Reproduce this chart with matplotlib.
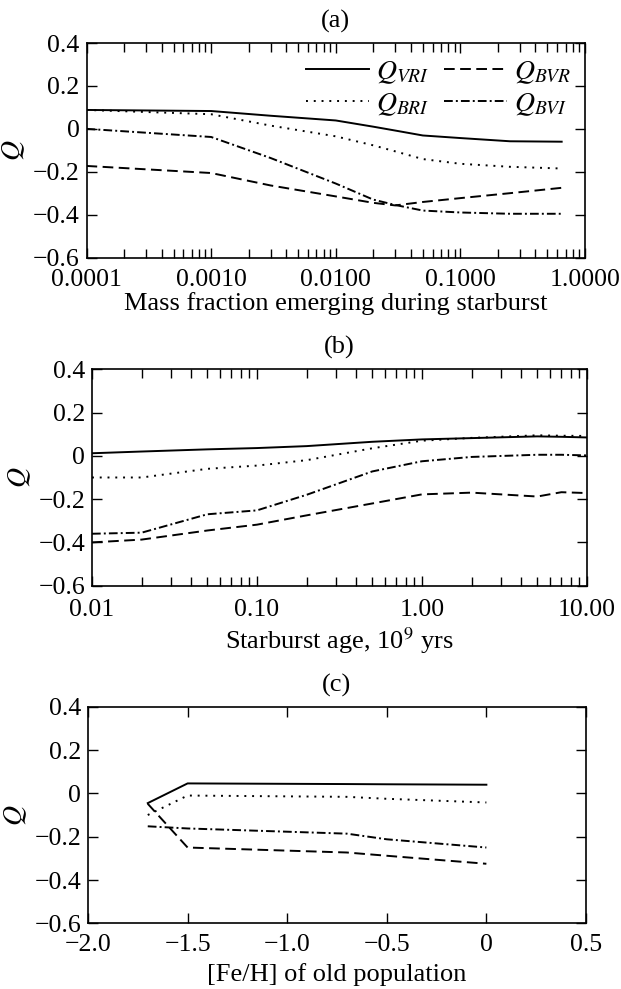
import matplotlib
matplotlib.use("Agg")
import matplotlib.pyplot as plt
from matplotlib.ticker import FixedLocator, LogLocator, NullFormatter, FixedFormatter

plt.rcParams['font.family'] = ['Liberation Serif', 'DejaVu Serif']
plt.rcParams['mathtext.fontset'] = 'stix'

# ---------------- data ----------------
# panel (a): mass fraction emerging during starburst
a_x = [1e-4, 1e-3, 3e-3, 1e-2, 2e-2, 3e-2, 5e-2, 1e-1, 2.5e-1, 6.5e-1]
a_vri = [0.088, 0.083, 0.061, 0.039, 0.010, -0.008, -0.031, -0.043, -0.058, -0.060]
a_bri = [0.088, 0.068, 0.015, -0.035, -0.077, -0.105, -0.141, -0.163, -0.177, -0.185]
a_bvi = [0.0, -0.038, -0.136, -0.255, -0.330, -0.355, -0.381, -0.390, -0.396, -0.396]
a_bvr = [-0.173, -0.206, -0.264, -0.315, -0.345, -0.357, -0.341, -0.323, -0.300, -0.275]

# panel (b): starburst age
b_x = [0.01, 0.02, 0.05, 0.1, 0.2, 0.5, 1.0, 2.0, 5.0, 7.0, 10.0]
b_vri = [0.012, 0.020, 0.030, 0.036, 0.045, 0.065, 0.076, 0.082, 0.090, 0.088, 0.085]
b_bri = [-0.100, -0.100, -0.060, -0.045, -0.020, 0.035, 0.070, 0.083, 0.095, 0.093, 0.092]
b_bvi = [-0.360, -0.355, -0.270, -0.252, -0.180, -0.072, -0.025, -0.005, 0.005, 0.005, 0.002]
b_bvr = [-0.400, -0.387, -0.345, -0.318, -0.275, -0.220, -0.178, -0.170, -0.188, -0.168, -0.172]

# panel (c): [Fe/H] of old population
c_x = [-1.7, -1.5, -0.7, -0.5, 0.0]
c_vri = [-0.045, 0.046, 0.043, 0.042, 0.040]
c_bri = [-0.100, -0.010, -0.016, -0.025, -0.042]
c_bvi = [-0.152, -0.162, -0.186, -0.212, -0.250]
c_bvr = [-0.048, -0.250, -0.273, -0.288, -0.325]

y_ticks = [-0.6, -0.4, -0.2, 0.0, 0.2, 0.4]
y_ticklabels = ['\u22120.6', '\u22120.4', '\u22120.2', '0', '0.2', '0.4']

a_ticks = [1e-4, 1e-3, 1e-2, 1e-1, 1.0]
a_ticklabels = ['0.0001', '0.0010', '0.0100', '0.1000', '1.0000']
b_ticks = [0.01, 0.1, 1.0, 10.0]
b_ticklabels = ['0.01', '0.10', '1.00', '10.00']
c_ticks = [-2.0, -1.5, -1.0, -0.5, 0.0, 0.5]
c_ticklabels = ['\u22122.0', '\u22121.5', '\u22121.0', '\u22120.5', '0', '0.5']

labels = [r'$Q_{VRI}$', r'$Q_{BRI}$', r'$Q_{BVR}$', r'$Q_{BVI}$']

# ---------------- styles ----------------
LW = 1.4
styles = {
    'vri': dict(color='black', lw=LW, ls='-'),
    'bri': dict(color='black', lw=LW, ls=(0, (1, 3))),
    'bvr': dict(color='black', lw=LW, ls=(0, (5.5, 2.8))),
    'bvi': dict(color='black', lw=LW, ls=(0, (4.5, 1.6, 1, 1.6))),
}
TFS = 18.5   # tick labels
LFS = 19     # axis labels / titles

fig = plt.figure(figsize=(6.21, 9.89), dpi=100)
ax_a = fig.add_axes([0.1393, 0.7396, 0.8027, 0.2169])
ax_b = fig.add_axes([0.1481, 0.4078, 0.7971, 0.2188])
ax_c = fig.add_axes([0.1417, 0.0664, 0.8019, 0.2190])


def common(ax, title, xlabel, xpad, lpad):
    ax.set_ylim(-0.6, 0.4)
    ax.yaxis.set_major_locator(FixedLocator(y_ticks))
    ax.yaxis.set_major_formatter(FixedFormatter(y_ticklabels))
    ax.tick_params(axis='both', which='both', direction='in', top=True, right=True,
                   labelsize=TFS, width=1.0)
    ax.tick_params(axis='x', which='both', pad=xpad)
    ax.tick_params(axis='y', which='both', pad=5)
    ax.tick_params(axis='both', which='major', length=7)
    ax.tick_params(axis='both', which='minor', length=6.5)
    ax.tick_params(axis='y', which='minor', left=False, right=False)
    for s in ax.spines.values():
        s.set_linewidth(1.2)
    ax.set_title(title, fontsize=LFS, pad=11)
    ax.set_xlabel(xlabel, fontsize=LFS, labelpad=lpad)
    ax.set_ylabel(r'$Q$', fontsize=LFS + 1, labelpad=4)


def draw(ax, x, vri, bri, bvr, bvi):
    h1, = ax.plot(x, vri, **styles['vri'])
    h2, = ax.plot(x, bri, **styles['bri'])
    h3, = ax.plot(x, bvr, **styles['bvr'])
    h4, = ax.plot(x, bvi, **styles['bvi'])
    return [h1, h2, h3, h4]

# (a)
hs = draw(ax_a, a_x, a_vri, a_bri, a_bvr, a_bvi)
ax_a.set_xscale('log')
ax_a.set_xlim(1e-4, 1.0)
ax_a.xaxis.set_major_locator(FixedLocator(a_ticks))
ax_a.xaxis.set_major_formatter(FixedFormatter(a_ticklabels))
ax_a.xaxis.set_minor_locator(LogLocator(base=10, subs=range(2, 10), numticks=20))
ax_a.xaxis.set_minor_formatter(NullFormatter())
common(ax_a, '(a)', 'Mass fraction emerging during starburst', 8, 1)
ax_a.legend(hs, labels, ncol=2, frameon=False, fontsize=20, loc='upper right',
            bbox_to_anchor=(1.0, 0.99), handlelength=2.25, handletextpad=0.25,
            columnspacing=0.55, labelspacing=0.2, borderaxespad=0.1)

# (b)
draw(ax_b, b_x, b_vri, b_bri, b_bvr, b_bvi)
ax_b.set_xscale('log')
ax_b.set_xlim(0.01, 10.0)
ax_b.xaxis.set_major_locator(FixedLocator(b_ticks))
ax_b.xaxis.set_major_formatter(FixedFormatter(b_ticklabels))
ax_b.xaxis.set_minor_locator(LogLocator(base=10, subs=range(2, 10), numticks=20))
ax_b.xaxis.set_minor_formatter(NullFormatter())
common(ax_b, '(b)', r'Starburst age, 10$^{9}$ yrs', 9.5, 3)

# (c)
draw(ax_c, c_x, c_vri, c_bri, c_bvr, c_bvi)
ax_c.set_xlim(-2.0, 0.5)
ax_c.xaxis.set_major_locator(FixedLocator(c_ticks))
ax_c.xaxis.set_major_formatter(FixedFormatter(c_ticklabels))
common(ax_c, '(c)', '[Fe/H] of old population', 8, 5)

fig.savefig('out.png', dpi=100)
